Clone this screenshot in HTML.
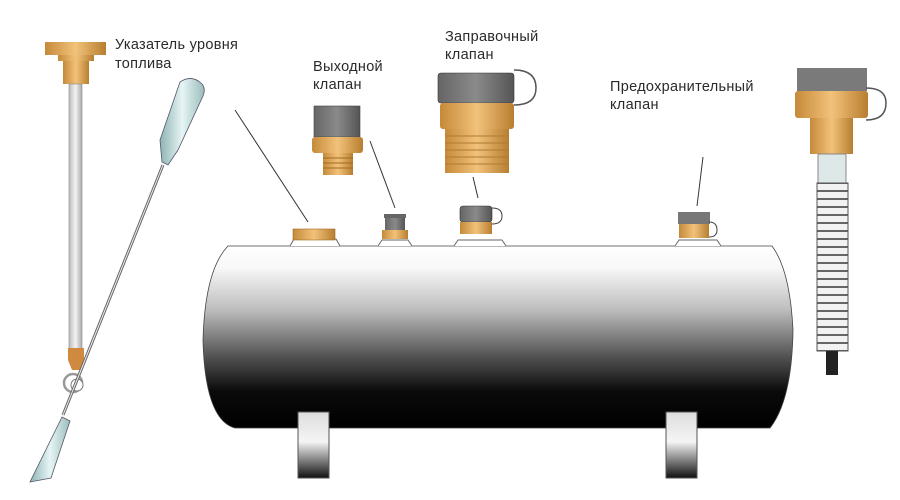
<!DOCTYPE html>
<html><head><meta charset="utf-8"><style>
html,body{margin:0;padding:0;background:#fff;}
svg{display:block}
text{font-family:"Liberation Sans","DejaVu Sans",sans-serif;font-size:14.5px;fill:#2a2a2a;letter-spacing:0.3px}
</style></head><body>
<svg width="900" height="500" viewBox="0 0 900 500" xmlns="http://www.w3.org/2000/svg">
<defs>
<linearGradient id="tank" x1="0" y1="0" x2="0" y2="1">
<stop offset="0" stop-color="#fff"/><stop offset="0.12" stop-color="#f8f8f8"/><stop offset="0.35" stop-color="#bdbdbd"/><stop offset="0.6" stop-color="#555"/><stop offset="0.8" stop-color="#0a0a0a"/><stop offset="1" stop-color="#000"/>
</linearGradient>
<linearGradient id="leg" x1="0" y1="0" x2="0" y2="1">
<stop offset="0" stop-color="#ddd"/><stop offset="0.45" stop-color="#f5f5f5"/><stop offset="1" stop-color="#111"/>
</linearGradient>
<linearGradient id="brass" x1="0" y1="0" x2="1" y2="0">
<stop offset="0" stop-color="#c58a3a"/><stop offset="0.5" stop-color="#f2c27a"/><stop offset="1" stop-color="#b77e30"/>
</linearGradient>
<linearGradient id="grey" x1="0" y1="0" x2="1" y2="0">
<stop offset="0" stop-color="#666"/><stop offset="0.5" stop-color="#8a8a8a"/><stop offset="1" stop-color="#555"/>
</linearGradient>
<linearGradient id="rod" x1="0" y1="0" x2="1" y2="0">
<stop offset="0" stop-color="#bbb"/><stop offset="0.5" stop-color="#f3f3f3"/><stop offset="1" stop-color="#aaa"/>
</linearGradient>
<linearGradient id="float" x1="0" y1="0" x2="1" y2="0">
<stop offset="0" stop-color="#8fb3b3"/><stop offset="0.5" stop-color="#e6f5f5"/><stop offset="1" stop-color="#9cbcbc"/>
</linearGradient>
<pattern id="spring" width="10" height="8" patternUnits="userSpaceOnUse">
<rect width="10" height="8" fill="#f2f2f2"/><rect y="6" width="10" height="2" fill="#666"/>
</pattern>
</defs>

<text x="115" y="49">Указатель  уровня</text>
<text x="115" y="68">топлива</text>
<text x="313" y="71">Выходной</text>
<text x="313" y="89">клапан</text>
<text x="445" y="41">Заправочный</text>
<text x="445" y="59">клапан</text>
<text x="610" y="91">Предохранительный</text>
<text x="610" y="109">клапан</text>

<g stroke="#333" stroke-width="1">
<line x1="235" y1="110" x2="308" y2="222"/>
<line x1="370" y1="141" x2="395" y2="208"/>
<line x1="473" y1="177" x2="478" y2="198"/>
<line x1="703" y1="157" x2="697" y2="206"/>
</g>

<path d="M228,246 L772,246 Q790,270 793,330 Q792,400 770,428 L235,428 Q205,420 203,340 Q205,270 228,246 Z" fill="url(#tank)" stroke="#444" stroke-width="0.8"/>
<path d="M290,246 l4,-7 h42 l4,7 M378,246 l4,-6 h26 l4,6 M454,246 l4,-6 h44 l4,6 M675,246 l4,-6 h38 l4,6" fill="#fff" stroke="#666" stroke-width="1"/>
<rect x="298" y="412" width="31" height="66" fill="url(#leg)" stroke="#555"/>
<rect x="666" y="412" width="31" height="66" fill="url(#leg)" stroke="#555"/>

<rect x="293" y="229" width="42" height="11" fill="url(#brass)" stroke="#a06a20" stroke-width="0.6"/>
<rect x="384" y="214" width="22" height="4" fill="#666"/>
<rect x="385" y="218" width="20" height="12" fill="url(#grey)"/>
<rect x="382" y="230" width="26" height="9" fill="url(#brass)"/>
<rect x="460" y="206" width="32" height="16" rx="3" fill="url(#grey)" stroke="#333" stroke-width="0.6"/>
<path d="M492,208 q10,0 10,8 q0,8 -10,8" fill="none" stroke="#444"/>
<rect x="460" y="222" width="32" height="12" fill="url(#brass)"/>
<rect x="678" y="212" width="32" height="12" fill="#777"/>
<rect x="679" y="224" width="30" height="14" fill="url(#brass)"/>
<path d="M709,222 q8,0 8,8 q0,7 -8,7" fill="none" stroke="#444"/>

<rect x="314" y="106" width="46" height="31" fill="url(#grey)" stroke="#444" stroke-width="0.6"/>
<rect x="312" y="137" width="51" height="16" rx="3" fill="url(#brass)"/>
<rect x="323" y="153" width="30" height="22" fill="url(#brass)"/>
<g stroke="#a06a20" stroke-width="1"><line x1="323" y1="158" x2="353" y2="158"/><line x1="323" y1="163" x2="353" y2="163"/><line x1="323" y1="168" x2="353" y2="168"/></g>

<rect x="438" y="73" width="76" height="30" rx="3" fill="url(#grey)" stroke="#333" stroke-width="0.6"/>
<path d="M514,70 q22,0 22,18 q0,17 -22,17" fill="none" stroke="#555" stroke-width="1.5"/>
<rect x="440" y="103" width="74" height="26" rx="3" fill="url(#brass)"/>
<rect x="445" y="129" width="64" height="44" fill="url(#brass)"/>
<g stroke="#b07a30" stroke-width="1"><line x1="445" y1="136" x2="509" y2="136"/><line x1="445" y1="143" x2="509" y2="143"/><line x1="445" y1="150" x2="509" y2="150"/><line x1="445" y1="157" x2="509" y2="157"/><line x1="445" y1="164" x2="509" y2="164"/></g>

<rect x="797" y="68" width="70" height="23" fill="#7a7a7a"/>
<path d="M866,88 q20,0 20,15 q0,17 -20,17" fill="none" stroke="#555" stroke-width="1.5"/>
<rect x="795" y="91" width="73" height="27" rx="3" fill="url(#brass)"/>
<rect x="810" y="118" width="43" height="36" fill="url(#brass)"/>
<rect x="818" y="154" width="28" height="32" fill="#dfe8e8" stroke="#888"/>
<rect x="817" y="183" width="31" height="168" fill="url(#spring)" stroke="#555"/>
<rect x="826" y="351" width="12" height="24" fill="#222"/>

<rect x="45" y="42" width="61" height="13" fill="url(#brass)"/>
<rect x="58" y="55" width="36" height="6" fill="url(#brass)"/>
<rect x="63" y="61" width="26" height="23" fill="url(#brass)"/>
<rect x="69" y="84" width="13" height="266" fill="url(#rod)" stroke="#888" stroke-width="0.6"/>
<path d="M68,348 h16 v12 l-4,10 h-8 l-4,-10 Z" fill="#d08a40"/>
<circle cx="73" cy="383" r="9" fill="none" stroke="#999" stroke-width="2.5"/>
<circle cx="77" cy="385" r="6" fill="#fff" stroke="#777"/>
<line x1="163" y1="165" x2="63" y2="415" stroke="#666" stroke-width="3"/>
<line x1="163" y1="165" x2="63" y2="415" stroke="#eee" stroke-width="1"/>
<path d="M180,82 q12,-8 22,2 q4,5 1,12 L178,150 L168,165 L162,162 L160,140 Z" fill="url(#float)" stroke="#556" stroke-width="0.8"/>
<path d="M62,417 l8,4 L51,478 L30,482 Z" fill="url(#float)" stroke="#556" stroke-width="0.8"/>
</svg>
</body></html>
